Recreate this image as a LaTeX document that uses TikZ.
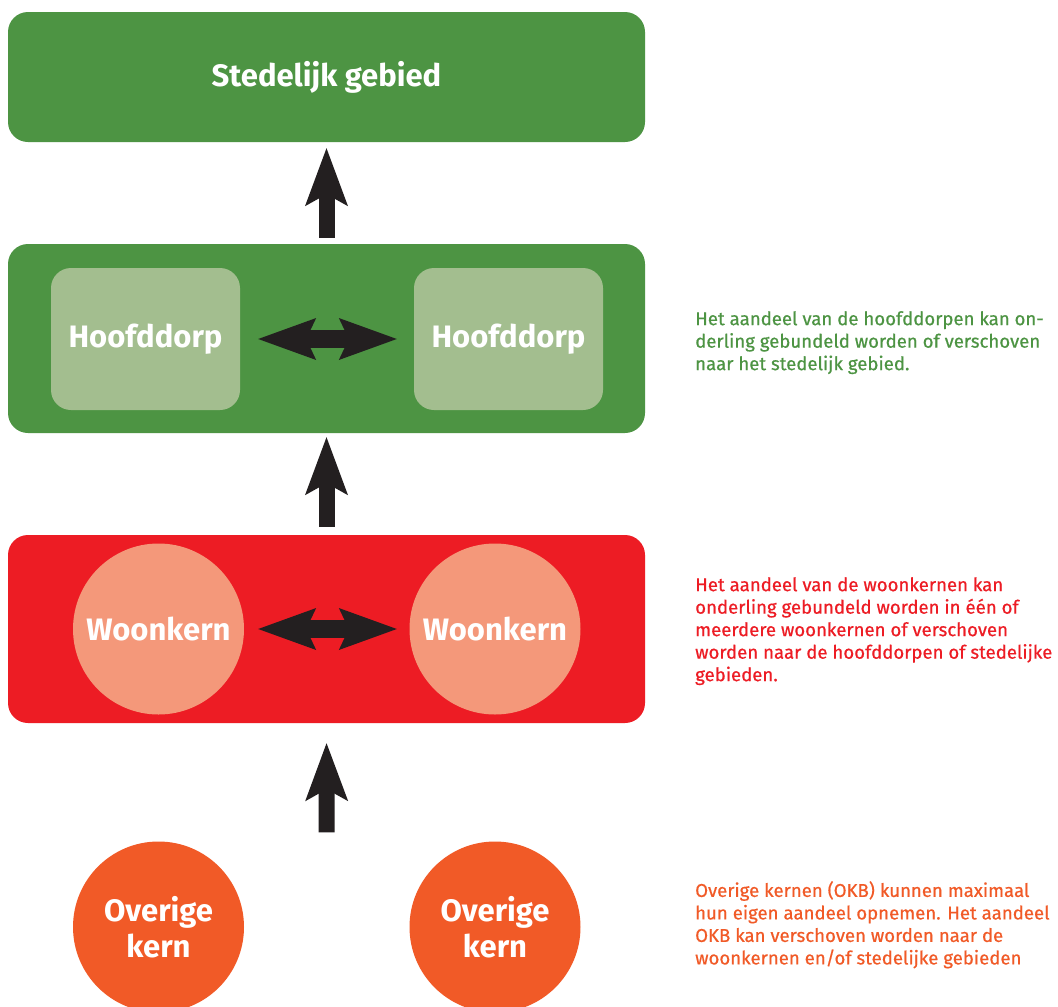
\documentclass[tikz,border=0pt]{standalone}
\usepackage{fontspec}
\setmainfont{Fira Sans}
\newfontfamily\notefont[FakeBold=0.6]{Fira Sans}
\usetikzlibrary{arrows.meta,calc}
\definecolor{dgreen}{HTML}{4D9443}
\definecolor{lgreen}{HTML}{A3BE8F}
\definecolor{dred}{HTML}{ED1C24}
\definecolor{salmon}{HTML}{F4987A}
\definecolor{orng}{HTML}{F15A27}
\definecolor{arr}{HTML}{231F20}
\begin{document}
\begin{tikzpicture}[x=1pt,y=-1pt,
  bigbox/.style={rounded corners=20pt, minimum width=637pt, inner sep=0pt},
  lbl/.style={text=white, font=\fontsize{31}{36}\selectfont\bfseries},
  inbox/.style={lbl, fill=lgreen, rounded corners=20pt, minimum width=189pt, minimum height=142pt, inner sep=0pt},
  circ/.style={lbl, circle, minimum size=171pt, inner sep=0pt, align=center},
  uparr/.style={arr, line width=16pt, -{Stealth[length=58pt,width=43pt,inset=12pt,line width=0pt]}},
  dblarr/.style={arr, line width=18pt, {Stealth[length=58pt,width=42pt,inset=10pt,line width=0pt]}-{Stealth[length=58pt,width=42pt,inset=10pt,line width=0pt]}},
  note/.style={anchor=north west, inner sep=0pt, align=left, font=\notefont\fontsize{18.6}{22.5}\selectfont}
]
\useasboundingbox (0,0) rectangle (1058,1007);
\fill[white] (0,0) rectangle (1058,1007);

\node[bigbox, fill=dgreen, minimum height=130pt, lbl] (sg) at (326.5,77) {Stedelijk gebied};
\node[bigbox, fill=dgreen, minimum height=189pt] (hz) at (326.5,338.5) {};
\node[inbox] (hd1) at (145.5,339) {Hoofddorp};
\node[inbox] (hd2) at (508.5,339) {Hoofddorp};
\node[bigbox, fill=dred, minimum height=188pt] (wz) at (326.5,629) {};
\node[circ, fill=salmon] (wk1) at (158.5,629) {Woonkern};
\node[circ, fill=salmon] (wk2) at (495,629) {Woonkern};
\node[circ, fill=orng] (ok1) at (158.5,927) {Overige\\kern};
\node[circ, fill=orng] (ok2) at (495,927) {Overige\\kern};
\coordinate (okmid) at ($(ok1.north)!0.5!(ok2.north)$);

\draw[uparr, shorten <=6pt, shorten >=6pt] (hz.north) -- (sg.south);
\draw[uparr, shorten <=8pt, shorten >=4pt] (wz.north) -- (hz.south);
\draw[uparr, shorten <=9pt, shorten >=20pt] (okmid) -- (wz.south);
\draw[dblarr, shorten <=18pt, shorten >=17pt] (hd1.east) -- (hd2.west);
\draw[dblarr, shorten <=14pt, shorten >=12.5pt] (wk1.east) -- (wk2.west);

\node[note, text=dgreen] (t1) at (695,311) {Het aandeel van de hoofddorpen kan on-\\derling gebundeld worden of verschoven\\naar het stedelijk gebied.};
\node[note, text=dred] (t2) at (695,577) {Het aandeel van de woonkernen kan\\onderling gebundeld worden in één of\\meerdere woonkernen of verschoven\\worden naar de hoofddorpen of stedelijke\\gebieden.};
\node[note, text=orng] (t3) at (695,881) {Overige kernen (OKB) kunnen maximaal\\hun eigen aandeel opnemen. Het aandeel\\OKB kan verschoven worden naar de\\woonkernen en/of stedelijke gebieden};
\end{tikzpicture}
\end{document}
